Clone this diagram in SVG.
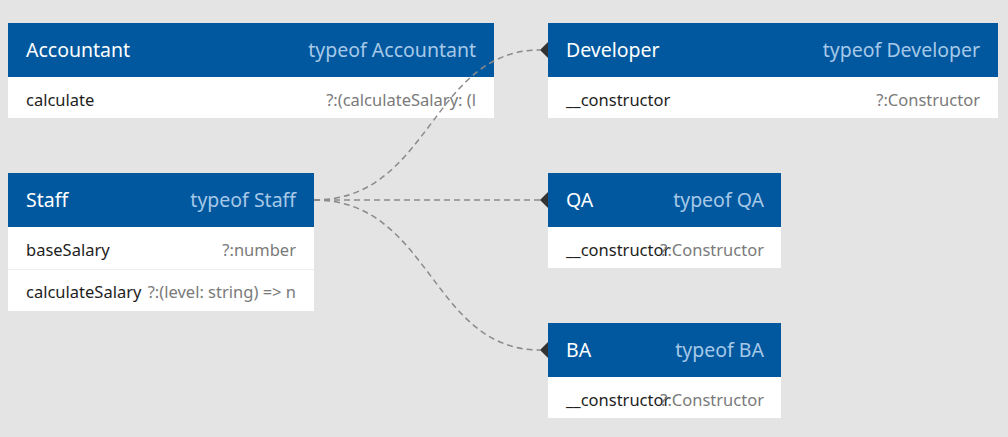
<svg xmlns="http://www.w3.org/2000/svg" width="1008" height="437" viewBox="0 0 1008 437">
<style>
.hdr{fill:#01589e}
.body{fill:#ffffff}
.sep{stroke:#eeeeee;stroke-width:1}
.title{font-family:"Noto Sans","Open Sans",sans-serif;font-size:19.5px;fill:#ffffff}
.type{font-family:"Noto Sans","Open Sans",sans-serif;font-size:19.5px;fill:#a6c8e8;text-anchor:end}
.name{font-family:"Noto Sans","Open Sans",sans-serif;font-size:16.5px;fill:#1e1e1e}
.val{font-family:"Noto Sans","Open Sans",sans-serif;font-size:16.5px;fill:#7a7a7a;text-anchor:end}
.conn{fill:none;stroke:#8a8a8a;stroke-width:1.5;stroke-dasharray:6 4}
</style>
<defs>
<marker id="arr" viewBox="0 0 8 16" refX="0" refY="8" markerWidth="8" markerHeight="16" markerUnits="userSpaceOnUse" orient="auto">
<path d="M0,8 L8,0 L8,16 Z" fill="#333333"/>
</marker>
</defs>
<rect x="0" y="0" width="1008" height="437" fill="#e4e4e4"/>
<g id="Accountant">
<rect class="hdr" x="8" y="23" width="486" height="54"/>
<rect class="body" x="8" y="77" width="486" height="41"/>
<text class="title" x="26" y="57">Accountant</text>
<text class="type" x="476" y="57">typeof Accountant</text>
<text class="name" x="26" y="106">calculate</text>
<text class="val" x="476" y="106">?:(calculateSalary: (l</text>
</g>
<g id="Developer">
<rect class="hdr" x="548" y="23" width="450" height="54"/>
<rect class="body" x="548" y="77" width="450" height="41"/>
<text class="title" x="566" y="57">Developer</text>
<text class="type" x="980" y="57">typeof Developer</text>
<text class="name" x="566" y="106">__constructor</text>
<text class="val" x="980" y="106">?:Constructor</text>
</g>
<g id="Staff">
<rect class="hdr" x="8" y="173" width="306" height="54"/>
<rect class="body" x="8" y="227" width="306" height="84"/>
<line class="sep" x1="8" y1="269.5" x2="314" y2="269.5"/>
<text class="title" x="26" y="207">Staff</text>
<text class="type" x="296" y="207">typeof Staff</text>
<text class="name" x="26" y="256">baseSalary</text>
<text class="val" x="296" y="256">?:number</text>
<text class="name" x="26" y="298">calculateSalary</text>
<text class="val" x="296" y="298">?:(level: string) =&gt; n</text>
</g>
<g id="QA">
<rect class="hdr" x="548" y="173" width="233" height="54"/>
<rect class="body" x="548" y="227" width="233" height="41"/>
<text class="title" x="566" y="207">QA</text>
<text class="type" x="764" y="207">typeof QA</text>
<text class="name" x="566" y="256">__constructor</text>
<text class="val" x="764" y="256">?:Constructor</text>
</g>
<g id="BA">
<rect class="hdr" x="548" y="323" width="233" height="54"/>
<rect class="body" x="548" y="377" width="233" height="41"/>
<text class="title" x="566" y="357">BA</text>
<text class="type" x="764" y="357">typeof BA</text>
<text class="name" x="566" y="406">__constructor</text>
<text class="val" x="764" y="406">?:Constructor</text>
</g>
<g id="connectors">
<path class="conn" d="M314,200 C431,200 431,50 540,50" marker-end="url(#arr)"/>
<path class="conn" d="M314,200 L540,200" marker-end="url(#arr)"/>
<path class="conn" d="M314,200 C431,200 431,350 540,350" marker-end="url(#arr)"/>
</g>
</svg>
